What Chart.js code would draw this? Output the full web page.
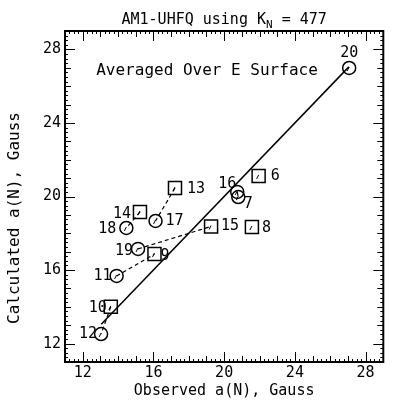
<!DOCTYPE html>
<html>
<head>
<meta charset="utf-8">
<script src="https://cdn.jsdelivr.net/npm/chart.js@4.4.0/dist/chart.umd.min.js"></script>
<style>
    html, body { margin: 0; padding: 0; background: #fff; }
    #wrap { width: 394px; height: 401px; position: relative; }
</style>
</head>
<body>
<div id="wrap"><canvas id="chart"></canvas></div>
<script>
// squares
const squareIds = ["6", "8", "9", "10", "13", "14", "15"];
const squareObs = [21.95, 21.57, 16.06, 13.59, 17.22, 15.24, 19.26];
const squareCalc = [21.12, 18.34, 16.87, 14.0, 20.46, 19.16, 18.37];

// circles
const circleIds = ["7", "11", "12", "16", "17", "18", "19", "20"];
const circleObs = [20.8, 13.92, 13.04, 20.74, 16.12, 14.47, 15.13, 27.07];
const circleCalc = [19.97, 15.68, 12.52, 20.25, 18.67, 18.29, 17.15, 26.99];

// dashed connections between points
const linkPairs = [["13", "17"], ["14", "18"], ["19", "15"], ["11", "9"], ["10", "12"], ["16", "7"]];

// solid line
const fitObs = [13.05, 27.05];
const fitCalc = [13.05, 27.05];

const xTicks = [12, 16, 20, 24, 28];
const yTicks = [12, 16, 20, 24, 28];

const titleMain = "AM1-UHFQ using K";
const titleSub = "N";
const titleTail = " = 477";
const noteText = "Averaged Over E Surface";
const xTitle = "Observed a(N), Gauss";
const yTitle = "Calculated a(N), Gauss";

// label placement: dx, dy, align
const labelPlace = {
    "20": [0, -15, "center"],
    "16": [-10, -8, "center"],
    "6": [12, 0, "left"],
    "7": [10, 7, "center"],
    "15": [10, 0, "left"],
    "8": [10, 1, "left"],
    "13": [12, 1, "left"],
    "14": [-9, 2, "right"],
    "17": [10, 0, "left"],
    "18": [-10, 1, "right"],
    "19": [-5, 2, "right"],
    "9": [6, 2, "left"],
    "11": [-5, 0, "right"],
    "10": [-4, 1, "right"],
    "12": [-4, 0, "right"]
};

const MONO = "'DejaVu Sans Mono', monospace";

const points = {};
squareIds.forEach((id, i) => points[id] = { x: squareObs[i], y: squareCalc[i] });
circleIds.forEach((id, i) => points[id] = { x: circleObs[i], y: circleCalc[i] });

const linkSets = linkPairs.map(p => ({
    type: "line",
    data: [points[p[0]], points[p[1]]],
    borderColor: "#000",
    borderWidth: 1.2,
    borderDash: [4, 3],
    pointRadius: 0,
    fill: false,
    tension: 0
}));

const framePlugin = {
    id: "frame",
    afterDraw(chart) {
        const ctx = chart.ctx;
        const a = chart.chartArea;
        const xs = chart.scales.x;
        const ys = chart.scales.y;

        ctx.save();
        ctx.strokeStyle = "#000";
        ctx.lineWidth = 2;
        ctx.strokeRect(a.left, a.top, a.right - a.left, a.bottom - a.top);

        ctx.lineWidth = 1;
        ctx.beginPath();
        for (let i = 44; i <= 116; i++) {
            const v = i / 4;
            let len = 3;
            if (i % 4 === 0) len = 6;
            if (i % 16 === 0) len = 10;
            const px = Math.round(xs.getPixelForValue(v)) + 0.5;
            ctx.moveTo(px, a.bottom); ctx.lineTo(px, a.bottom - len);
            ctx.moveTo(px, a.top); ctx.lineTo(px, a.top + len);
            const py = Math.round(ys.getPixelForValue(v)) + 0.5;
            ctx.moveTo(a.left, py); ctx.lineTo(a.left + len, py);
            ctx.moveTo(a.right, py); ctx.lineTo(a.right - len, py);
        }
        ctx.stroke();

        // marker slashes and point labels
        ctx.lineWidth = 1;
        ctx.font = "15px " + MONO;
        ctx.fillStyle = "#000";
        ctx.textBaseline = "middle";
        Object.keys(points).forEach(id => {
            const cx = xs.getPixelForValue(points[id].x);
            const cy = ys.getPixelForValue(points[id].y);
            ctx.beginPath();
            ctx.moveTo(cx - 2, cy + 3);
            ctx.lineTo(cx, cy - 1);
            ctx.stroke();
            const pl = labelPlace[id];
            ctx.textAlign = pl[2];
            ctx.fillText(id, cx + pl[0], cy + pl[1]);
        });

        // title with subscript
        ctx.textAlign = "left";
        ctx.textBaseline = "alphabetic";
        ctx.font = "15px " + MONO;
        const w1 = ctx.measureText(titleMain).width;
        const w3 = ctx.measureText(titleTail).width;
        ctx.font = "11px " + MONO;
        const w2 = ctx.measureText(titleSub).width;
        const tx = (a.left + a.right) / 2 - (w1 + w2 + w3) / 2;
        ctx.font = "15px " + MONO;
        ctx.fillText(titleMain, tx, 24);
        ctx.fillText(titleTail, tx + w1 + w2, 24);
        ctx.font = "11px " + MONO;
        ctx.fillText(titleSub, tx + w1, 28);

        // note inside plot
        ctx.font = "16px " + MONO;
        ctx.textAlign = "center";
        ctx.textBaseline = "middle";
        ctx.fillText(noteText, 207, 71);

        // axis titles
        ctx.font = "15px " + MONO;
        ctx.fillText(xTitle, (a.left + a.right) / 2, 391);
        ctx.translate(15, 218);
        ctx.rotate(-Math.PI / 2);
        ctx.font = "16px " + MONO;
        ctx.fillText(yTitle, 0, 0);
        ctx.restore();
    }
};

new Chart(document.getElementById("chart"), {
    type: "scatter",
    data: {
        datasets: [
            {
                type: "line",
                data: [{ x: fitObs[0], y: fitCalc[0] }, { x: fitObs[1], y: fitCalc[1] }],
                borderColor: "#000",
                borderWidth: 1.5,
                pointRadius: 0,
                fill: false
            },
            ...linkSets,
            {
                label: "squares",
                data: squareIds.map(id => points[id]),
                pointStyle: "rect",
                pointRadius: 9.2,
                borderColor: "#000",
                backgroundColor: "rgba(0,0,0,0)",
                borderWidth: 1.5
            },
            {
                label: "circles",
                data: circleIds.map(id => points[id]),
                pointStyle: "circle",
                pointRadius: 6.5,
                borderColor: "#000",
                backgroundColor: "rgba(0,0,0,0)",
                borderWidth: 1.5
            }
        ]
    },
    options: {
        responsive: true,
        maintainAspectRatio: false,
        animation: false,
        devicePixelRatio: 1,
        layout: { padding: { top: 31, right: 2, left: 0, bottom: 0 } },
        plugins: {
            legend: { display: false },
            tooltip: { enabled: false }
        },
        scales: {
            x: {
                type: "linear",
                min: 11,
                max: 29,
                grid: { display: false, drawTicks: false },
                border: { display: false },
                afterFit: s => { s.height = 39; },
                afterBuildTicks: s => { s.ticks = xTicks.map(v => ({ value: v })); },
                ticks: {
                    padding: 2,
                    color: "#000",
                    font: { family: MONO, size: 15 }
                }
            },
            y: {
                type: "linear",
                min: 11,
                max: 29,
                grid: { display: false, drawTicks: false },
                border: { display: false },
                afterFit: s => { s.width = 65; },
                afterBuildTicks: s => { s.ticks = yTicks.map(v => ({ value: v })); },
                ticks: {
                    padding: 4,
                    color: "#000",
                    font: { family: MONO, size: 15 }
                }
            }
        }
    },
    plugins: [framePlugin]
});
</script>
</body>
</html>
